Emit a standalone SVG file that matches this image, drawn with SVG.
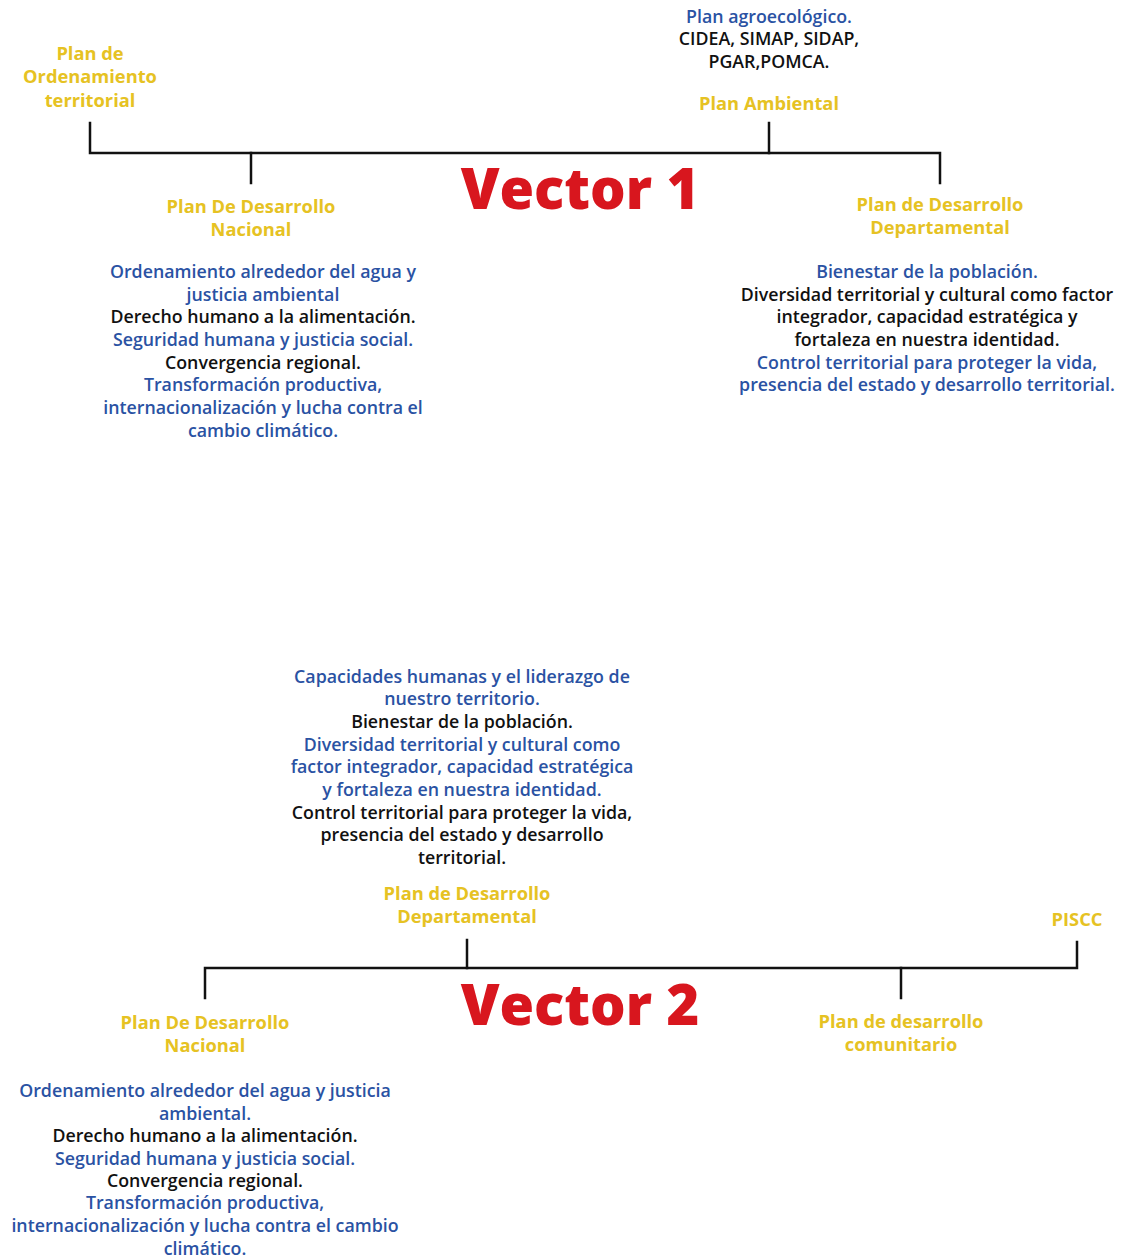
<svg xmlns="http://www.w3.org/2000/svg" width="1124" height="1258" viewBox="0 0 1124 1258">
<style>
text{font-family:"Open Sans","Liberation Sans",sans-serif;text-anchor:middle;font-size:17.8px;font-weight:600}
.y{fill:#e6c223;font-weight:700;font-size:18.3px}
.b{fill:#2a52a3}
.k{fill:#111111}
.t{fill:#d8161e;font-weight:800;font-size:56px}
.c{stroke:#111;stroke-width:2.5;fill:none;stroke-linecap:square}
</style>
<rect width="1124" height="1258" fill="#ffffff"/>
<g id="connectors">
<path class="c" d="M90 123 V153 H940 V183"/>
<path class="c" d="M251 153 V183"/>
<path class="c" d="M769 123 V153"/>
<path class="c" d="M205 998 V968 H1077 V942"/>
<path class="c" d="M467 940 V968"/>
<path class="c" d="M901 968 V998"/>
</g>
<g id="vector1"><text class="t" x="580" y="209">Vector 1</text></g>
<g id="pot">
<text class="y" x="90" y="60">Plan de</text>
<text class="y" x="90" y="83">Ordenamiento</text>
<text class="y" x="90" y="106.5">territorial</text>
</g>
<g id="plan-ambiental">
<text class="b" x="769" y="23">Plan agroecológico.</text>
<text class="k" x="769" y="45">CIDEA, SIMAP, SIDAP,</text>
<text class="k" x="769" y="68">PGAR,POMCA.</text>
<text class="y" x="769" y="110">Plan Ambiental</text>
</g>
<g id="pdn1">
<text class="y" x="251" y="213">Plan De Desarrollo</text>
<text class="y" x="251" y="236">Nacional</text>
<text class="b" x="263" y="278">Ordenamiento alrededor del agua y</text>
<text class="b" x="263" y="301">justicia ambiental</text>
<text class="k" x="263" y="323">Derecho humano a la alimentación.</text>
<text class="b" x="263" y="346">Seguridad humana y justicia social.</text>
<text class="k" x="263" y="369">Convergencia regional.</text>
<text class="b" x="263" y="391">Transformación productiva,</text>
<text class="b" x="263" y="414">internacionalización y lucha contra el</text>
<text class="b" x="263" y="437">cambio climático.</text>
</g>
<g id="pdd1">
<text class="y" x="940" y="211">Plan de Desarrollo</text>
<text class="y" x="940" y="234">Departamental</text>
<text class="b" x="927" y="278">Bienestar de la población.</text>
<text class="k" x="927" y="301">Diversidad territorial y cultural como factor</text>
<text class="k" x="927" y="323">integrador, capacidad estratégica y</text>
<text class="k" x="927" y="346">fortaleza en nuestra identidad.</text>
<text class="b" x="927" y="369">Control territorial para proteger la vida,</text>
<text class="b" x="927" y="391">presencia del estado y desarrollo territorial.</text>
</g>
<g id="vector2"><text class="t" x="580" y="1025">Vector 2</text></g>
<g id="pdd2">
<text class="b" x="462" y="683">Capacidades humanas y el liderazgo de</text>
<text class="b" x="462" y="705">nuestro territorio.</text>
<text class="k" x="462" y="728">Bienestar de la población.</text>
<text class="b" x="462" y="751">Diversidad territorial y cultural como</text>
<text class="b" x="462" y="773">factor integrador, capacidad estratégica</text>
<text class="b" x="462" y="796">y fortaleza en nuestra identidad.</text>
<text class="k" x="462" y="819">Control territorial para proteger la vida,</text>
<text class="k" x="462" y="841">presencia del estado y desarrollo</text>
<text class="k" x="462" y="864">territorial.</text>
<text class="y" x="467" y="900">Plan de Desarrollo</text>
<text class="y" x="467" y="923">Departamental</text>
</g>
<g id="piscc"><text class="y" x="1077" y="926">PISCC</text></g>
<g id="pdc">
<text class="y" x="901" y="1028">Plan de desarrollo</text>
<text class="y" x="901" y="1051">comunitario</text>
</g>
<g id="pdn2">
<text class="y" x="205" y="1029">Plan De Desarrollo</text>
<text class="y" x="205" y="1052">Nacional</text>
<text class="b" x="205" y="1097">Ordenamiento alrededor del agua y justicia</text>
<text class="b" x="205" y="1120">ambiental.</text>
<text class="k" x="205" y="1142">Derecho humano a la alimentación.</text>
<text class="b" x="205" y="1165">Seguridad humana y justicia social.</text>
<text class="k" x="205" y="1187">Convergencia regional.</text>
<text class="b" x="205" y="1209">Transformación productiva,</text>
<text class="b" x="205" y="1232">internacionalización y lucha contra el cambio</text>
<text class="b" x="205" y="1255">climático.</text>
</g>
</svg>
